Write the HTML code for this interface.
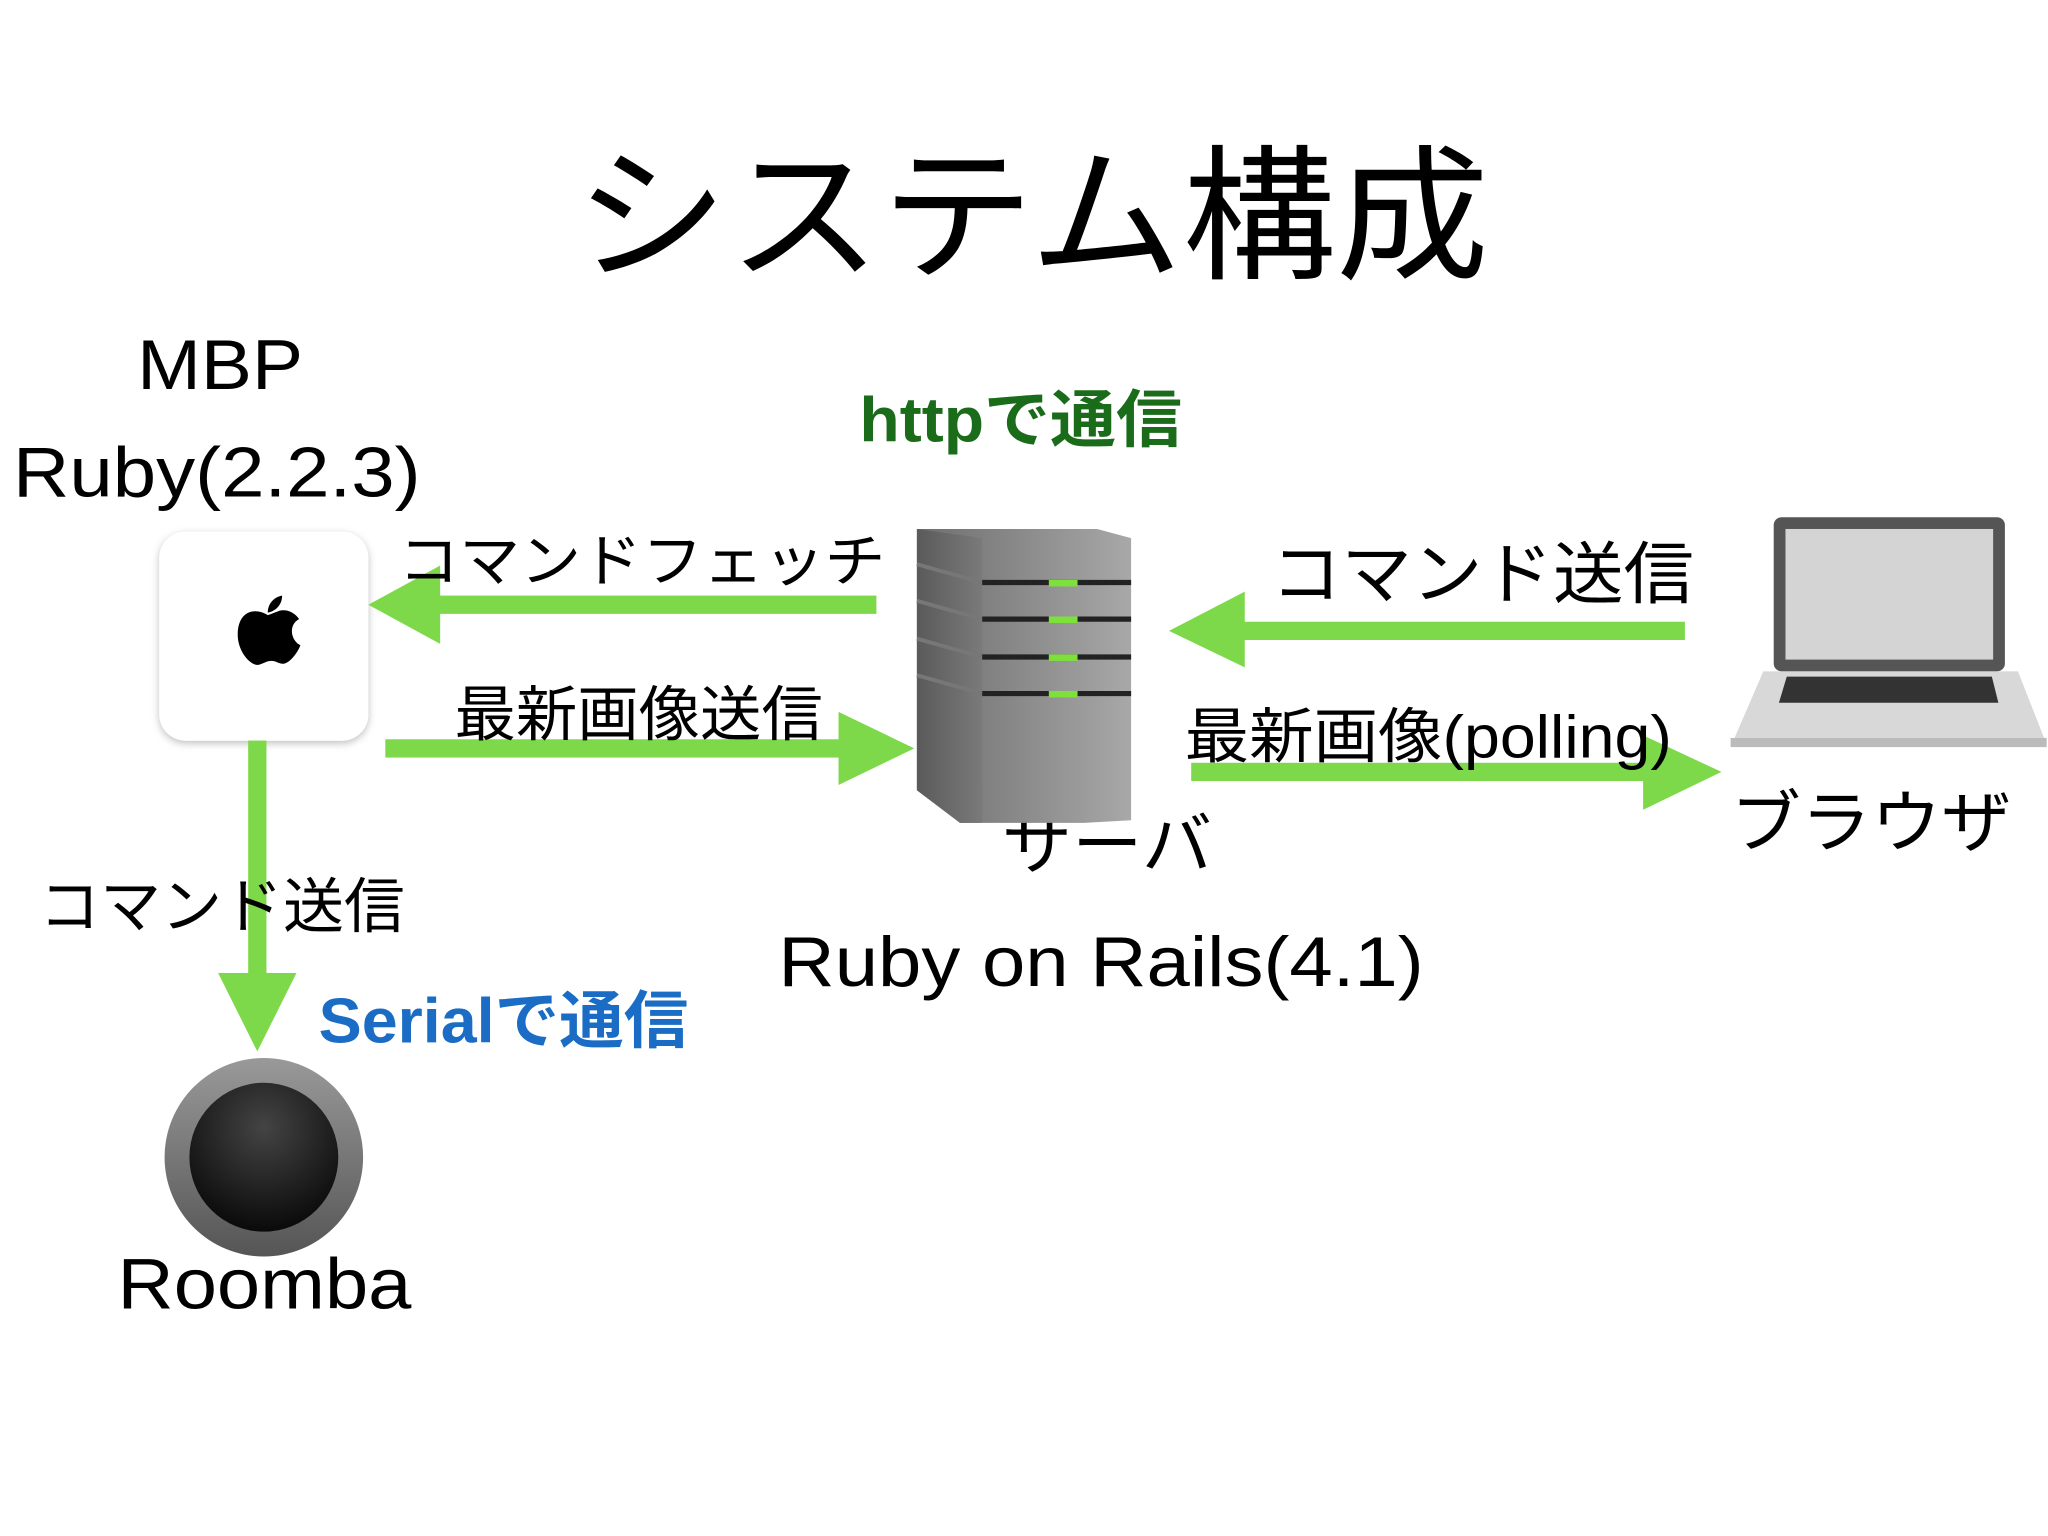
<!DOCTYPE html>
<html><head><meta charset="utf-8"><style>
html,body{margin:0;padding:0;background:#fff;}
svg{display:block;}
text{font-family:"Liberation Sans","Noto Sans CJK JP",sans-serif;}
</style></head><body>
<svg width="2048" height="1536" viewBox="0 0 1568 1176" xmlns="http://www.w3.org/2000/svg">
<defs>
<linearGradient id="sv" x1="0" x2="1"><stop offset="0" stop-color="#6e6e6e"/><stop offset="1" stop-color="#a8a8a8"/></linearGradient>
<linearGradient id="sl" x1="0" x2="1"><stop offset="0" stop-color="#5a5a5a"/><stop offset="1" stop-color="#7a7a7a"/></linearGradient>
<radialGradient id="rb" cx="0.5" cy="0.3" r="0.7"><stop offset="0" stop-color="#444"/><stop offset="1" stop-color="#0a0a0a"/></radialGradient>
<linearGradient id="ro" x1="0" y1="0" x2="0" y2="1"><stop offset="0" stop-color="#999"/><stop offset="1" stop-color="#555"/></linearGradient>
<filter id="sh" x="-20%" y="-20%" width="140%" height="140%"><feDropShadow dx="0" dy="2" stdDeviation="3" flood-color="#000" flood-opacity="0.25"/></filter>
</defs>
<text x="440" y="205" font-size="112" textLength="700" lengthAdjust="spacingAndGlyphs">システム構成</text>
<text x="105" y="298" font-size="54" textLength="127" lengthAdjust="spacingAndGlyphs">MBP</text>
<text x="10" y="380" font-size="54" textLength="312" lengthAdjust="spacingAndGlyphs">Ruby(2.2.3)</text>
<!-- mac mini -->
<rect x="122" y="407" width="160" height="160" rx="20" fill="#fff" filter="url(#sh)"/>
<path d="M205,471 C196,465 182,467 182,486 C182,499 192,510 198,509 C202,508 204,506 208,506 C212,506 214,509 218,508 C224,506 229,497 230,494 C222,490 221,478 229,474 C225,468 218,466 213,468 C210,469 208,470 205,471 Z" fill="#000"/>
<path d="M205,469 C205,462 210,457 216,456 C216,463 211,468 205,469 Z" fill="#000"/>
<!-- arrows -->
<g fill="#7ed94a">
<rect x="335" y="456" width="336" height="14"/><polygon points="282,463 337,433 337,493"/>
<rect x="295" y="566" width="352" height="14"/><polygon points="700,573 642,545 642,601"/>
<rect x="950" y="476" width="340" height="14"/><polygon points="895,483 953,453 953,511"/>
<rect x="912" y="584" width="350" height="14"/><polygon points="1318,591 1258,563 1258,620"/>
<rect x="190" y="567" width="14" height="180"/><polygon points="167,745 227,745 197,805"/>
</g>
<text x="305" y="445" font-size="44" textLength="373" lengthAdjust="spacingAndGlyphs">コマンドフェッチ</text>
<text x="348" y="563" font-size="46" textLength="282" lengthAdjust="spacingAndGlyphs">最新画像送信</text>
<text x="658" y="338" font-size="48" font-weight="bold" fill="#1a6b1a" textLength="247" lengthAdjust="spacingAndGlyphs">httpで通信</text>
<text x="973" y="458" font-size="52" textLength="324" lengthAdjust="spacingAndGlyphs">コマンド送信</text>
<text x="907" y="580" font-size="46" textLength="373" lengthAdjust="spacingAndGlyphs">最新画像(polling)</text>
<text x="1325" y="648" font-size="52" textLength="215" lengthAdjust="spacingAndGlyphs">ブラウザ</text>
<text x="767" y="665" font-size="52" textLength="161" lengthAdjust="spacingAndGlyphs">サーバ</text>
<text x="596" y="755" font-size="54" textLength="494" lengthAdjust="spacingAndGlyphs">Ruby on Rails(4.1)</text>
<text x="30" y="710" font-size="46" textLength="280" lengthAdjust="spacingAndGlyphs">コマンド送信</text>
<text x="244" y="798" font-size="48" font-weight="bold" fill="#1a6cc4" textLength="283" lengthAdjust="spacingAndGlyphs">Serialで通信</text>
<!-- server -->
<polygon points="702,405 840,405 866,412 866,628 830,630 735,630 702,605" fill="url(#sv)"/>
<polygon points="702,405 752,412 752,630 735,630 702,605" fill="url(#sl)"/>
<g stroke="#777" stroke-width="3">
<line x1="702" y1="432" x2="752" y2="446"/><line x1="702" y1="460" x2="752" y2="474"/>
<line x1="702" y1="489" x2="752" y2="503"/><line x1="702" y1="517" x2="752" y2="531"/>
</g>
<g stroke="#222" stroke-width="4">
<line x1="752" y1="446" x2="866" y2="446"/><line x1="752" y1="474" x2="866" y2="474"/>
<line x1="752" y1="503" x2="866" y2="503"/><line x1="752" y1="531" x2="866" y2="531"/>
</g>
<g fill="#7ee03a"><rect x="803" y="444" width="22" height="5"/><rect x="803" y="472" width="22" height="5"/><rect x="803" y="501" width="22" height="5"/><rect x="803" y="529" width="22" height="5"/></g>
<!-- laptop -->
<rect x="1358" y="396" width="177" height="118" rx="6" fill="#555"/>
<rect x="1367" y="405" width="159" height="100" fill="#d4d4d4"/>
<polygon points="1350,514 1545,514 1565,565 1328,565" fill="#d8d8d8"/>
<polygon points="1368,518 1525,518 1530,538 1362,538" fill="#333"/>
<rect x="1325" y="565" width="242" height="7" fill="#bbb"/>
<!-- roomba -->
<circle cx="202" cy="886" r="76" fill="url(#ro)"/>
<circle cx="202" cy="886" r="57" fill="url(#rb)"/>
<text x="90" y="1002" font-size="55" textLength="225" lengthAdjust="spacingAndGlyphs">Roomba</text>
</svg>
</body></html>
